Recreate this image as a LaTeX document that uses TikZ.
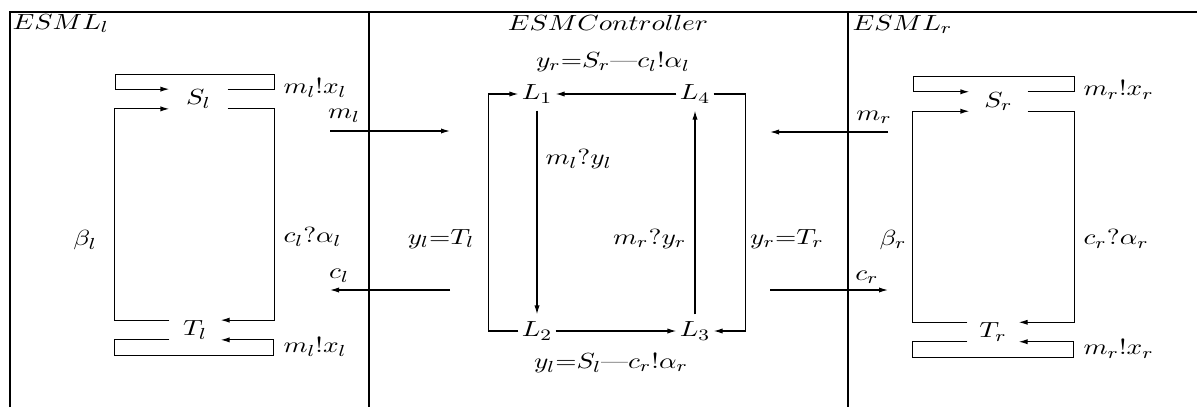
\documentclass[tikz,border=0pt]{standalone}
\usepackage{graphicx}
\usetikzlibrary{arrows.meta}
\newcommand{\wx}[1]{\scalebox{1.25}[1]{$#1$}}
\begin{document}
\begin{tikzpicture}[x=0.5pt,y=-0.5pt,line width=0.6pt,
  font=\fontsize{11}{13}\selectfont,
  arr/.style={-{Latex[length=4.5pt,width=2.6pt]}},
  sbox/.style={inner sep=0pt,minimum width=28.5pt,minimum height=7.5pt},
  tbox/.style={inner sep=0pt,minimum width=25pt,minimum height=8pt},
  lbox/.style={inner sep=0pt,minimum width=18pt,minimum height=16pt},
  lbl/.style={inner sep=0pt},
  frame/.style={line width=0.7pt},
  divider/.style={line width=1.1pt}]
\useasboundingbox (0,0) rectangle (1197,407);

% frame
\draw[frame] (10,407) -- (10,12) -- (1197,12);
\draw[divider] (369,12) -- (369,407);
\draw[divider] (848,12) -- (848,407);

% titles
\node[lbl,anchor=base west] (tl) at (12,29) {\wx{ESML_l}};
\node[lbl,anchor=base] (tc) at (608,30) {\wx{ESMController}};
\node[lbl,anchor=base west] (tr) at (852,30) {\wx{ESML_r}};

% ---------- left machine ----------
\node[sbox] (Sl) at (198.5,99) {\wx{S_l}};
\node[tbox] (Tl) at (195,330) {\wx{T_l}};
\draw[arr] (Sl.north east) -- ++(47,0) -- ++(0,-15) -- ++(-159,0) -- ++(0,15) -- (Sl.north west);
\draw[arr] (Sl.south east) -- ++(47,0) |- (Tl.north east);
\draw[arr] (Tl.north west) -- ++(-55,0) |- (Sl.south west);
\draw[arr] (Tl.south west) -- ++(-55,0) -- ++(0,16) -- ++(159,0) -- ++(0,-16) -- (Tl.south east);
\node[lbl,anchor=west] (lsl) at (283,88) {\wx{m_l!x_l}};
\node[lbl,anchor=west] (lca) at (283,237) {\wx{c_l?\alpha_l}};
\node[lbl] (lbe) at (85,240) {\wx{\beta_l}};
\node[lbl,anchor=west] (ltl) at (283,347) {\wx{m_l!x_l}};

% ---------- right machine ----------
\node[sbox] (Sr) at (998.5,101.5) {\wx{S_r}};
\node[tbox] (Tr) at (993,332) {\wx{T_r}};
\draw[arr] (Sr.north east) -- ++(47,0) -- ++(0,-15) -- ++(-161,0) -- ++(0,15) -- (Sr.north west);
\draw[arr] (Sr.south east) -- ++(47,0) |- (Tr.north east);
\draw[arr] (Tr.north west) -- ++(-55,0) |- (Sr.south west);
\draw[arr] (Tr.south west) -- ++(-55,0) -- ++(0,16) -- ++(161,0) -- ++(0,-16) -- (Tr.south east);
\node[lbl,anchor=west] (rsl) at (1083,90) {\wx{m_r!x_r}};
\node[lbl,anchor=west] (rca) at (1083,239) {\wx{c_r?\alpha_r}};
\node[lbl] (rbe) at (893,240) {\wx{\beta_r}};
\node[lbl,anchor=west] (rtl) at (1083,349) {\wx{m_r!x_r}};

% ---------- controller ----------
\node[lbox] (L1) at (537,94) {\wx{L_1}};
\node[lbox] (L4) at (695,94) {\wx{L_4}};
\node[lbox] (L2) at (537,331) {\wx{L_2}};
\node[lbox] (L3) at (695,331) {\wx{L_3}};
\draw[arr] (L4) -- (L1);
\draw[arr] (L1) -- (L2);
\draw[arr] (L2) -- (L3);
\draw[arr] (L3) -- (L4);
\draw[arr] (L4.east) -- ++(32,0) |- (L3.east);
\draw[arr] (L2.west) -- ++(-30,0) |- (L1.west);
\node[lbl] (ctop) at (613,62) {\wx{y_r{=}S_r\mbox{---}c_l!\alpha_l}};
\node[lbl] (cbot) at (611,363) {\wx{y_l{=}S_l\mbox{---}c_r!\alpha_r}};
\node[lbl,anchor=west] (cml) at (545,159) {\wx{m_l?y_l}};
\node[lbl,anchor=east] (cmr) at (687,239) {\wx{m_r?y_r}};
\node[lbl] (cyl) at (441,239) {\wx{y_l{=}T_l}};
\node[lbl] (cyr) at (787,239) {\wx{y_r{=}T_r}};

% ---------- channels ----------
\coordinate (mla) at (330,131);
\coordinate (mlb) at (450,131);
\coordinate (cla) at (450,290);
\coordinate (clb) at (330,290);
\coordinate (mra) at (888,132);
\coordinate (mrb) at (770,132);
\coordinate (cra) at (770,290);
\coordinate (crb) at (888,290);
\draw[arr] (mla) -- (mlb);
\draw[arr] (cla) -- (clb);
\draw[arr] (mra) -- (mrb);
\draw[arr] (cra) -- (crb);
\node[lbl] (tml) at (344,116) {\wx{m_l}};
\node[lbl] (tcl) at (339,276) {\wx{c_l}};
\node[lbl] (tmr) at (874,117) {\wx{m_r}};
\node[lbl] (tcr) at (867,277) {\wx{c_r}};
\end{tikzpicture}
\end{document}
